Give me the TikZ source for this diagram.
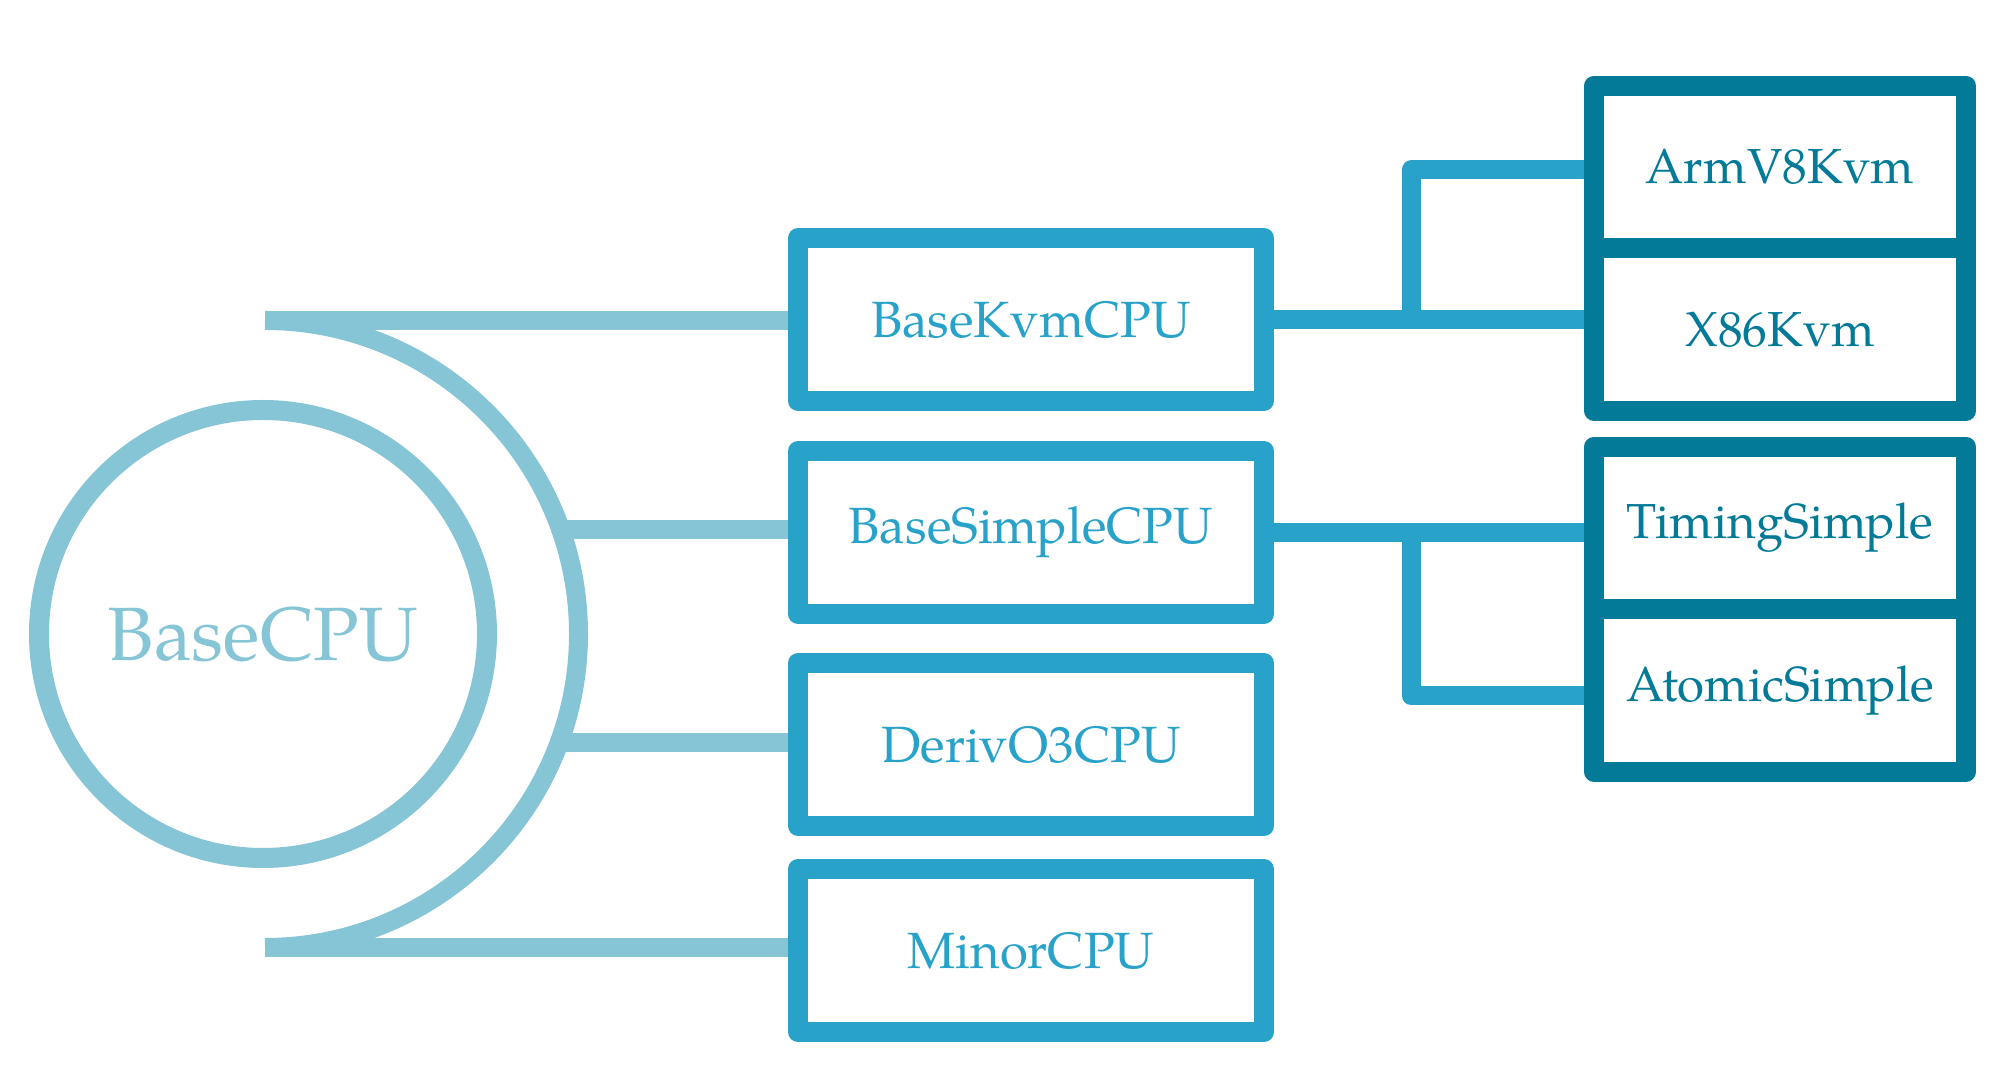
\documentclass[tikz,border=0pt]{standalone}
\usepackage{fontspec}
\setmainfont{TeX Gyre Pagella}
\usepackage{tikz}
\usetikzlibrary{positioning}
\definecolor{lightcpu}{HTML}{85C5D6}
\definecolor{midcpu}{HTML}{28A2C9}
\definecolor{darkcpu}{HTML}{037A97}

\begin{document}
\begin{tikzpicture}[cpu/.style = {draw = midcpu, text = midcpu, line width = 2mm, line join = round,
        outer sep = 0pt, minimum width = 4.66cm, minimum height = 1.63cm,
        font = \fontsize{14.5}{16}\selectfont},
    leaf/.style = {draw = darkcpu, text = darkcpu, line width = 2mm, line join = round,
        outer sep = 0pt, minimum width = 3.72cm, minimum height = 1.625cm,
        font = \fontsize{14}{16}\selectfont},
    soft/.style = {draw = lightcpu, line width = 1.9mm},
    link/.style = {draw = midcpu, line width = 1.9mm, line join = round}]
    \useasboundingbox (0,0) rectangle (20,10.8);
    \node[circle, draw = lightcpu, line width = 2mm, minimum size = 4.48cm, text = lightcpu,
        font = \fontsize{21.5}{24}\selectfont] (base) at (2.63,4.46) {BaseCPU};
    \node[cpu] (kvm) at (10.31,7.605) {BaseKvmCPU};
    \node[cpu] (simple) [below = 5mm of kvm] {BaseSimpleCPU};
    \node[cpu] (o3) [below = 4.9mm of simple] {DerivO3CPU};
    \node[cpu] (minor) [below = 4.3mm of o3] {MinorCPU};
    \node[leaf] (arm) at (17.80,9.13) {ArmV8Kvm};
    \node[leaf] (x86) [below = 0mm of arm] {X86Kvm};
    \node[leaf] (timing) [below = 3.6mm of x86] {TimingSimple};
    \node[leaf] (atomic) [below = 0mm of timing] {AtomicSimple};
    % the half ring round BaseCPU
    \coordinate (top) at ([xshift=0.02cm, yshift=3.135cm] base.center);
    \coordinate (bottom) at ([xshift=0.02cm, yshift=-3.135cm] base.center);
    \coordinate (a1) at ([shift={(19.4:3.135cm)}, xshift=0.02cm] base.center);
    \coordinate (a2) at ([shift={(-20.2:3.135cm)}, xshift=0.02cm] base.center);
    \path[soft] (top) arc (90:-90:3.135cm);
    \path[soft] (top) -- ([xshift=-1mm] top -| kvm.west);
    \path[soft] (a1) -- ([xshift=-1mm] a1 -| simple.west);
    \path[soft] (a2) -- ([xshift=-1mm] a2 -| o3.west);
    \path[soft] (bottom) -- ([xshift=-1mm] bottom -| minor.west);
    % branches to the leaves
    \coordinate (kj) at ([xshift=1.47cm] kvm.east);
    \coordinate (sj) at ([xshift=1.47cm] simple.east);
    \path[link] (kvm.east) -- (kj) |- ([xshift=-1mm, yshift=-0.03cm] arm.west);
    \path[link] (kj) -- ([xshift=-1mm] kj -| x86.west);
    \path[link] (simple.east) -- ([xshift=-1mm] simple.east -| timing.west);
    \path[link] (sj) |- ([xshift=-1mm, yshift=-0.055cm] atomic.west);
\end{tikzpicture}
\end{document}
